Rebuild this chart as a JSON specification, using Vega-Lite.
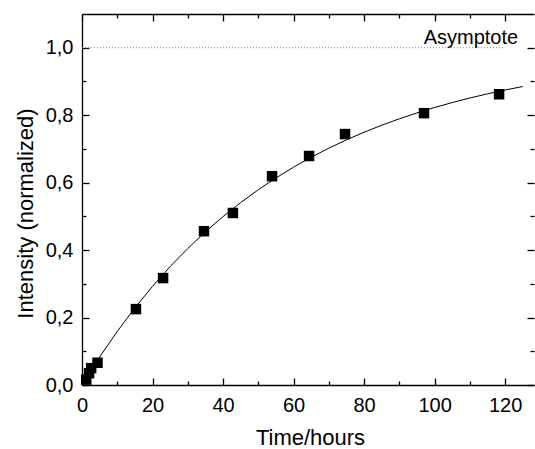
{
  "$schema": "https://vega.github.io/schema/vega-lite/v6.json",
  "width": 452,
  "height": 371,
  "autosize": {"type": "none"},
  "padding": {"left": 82, "top": 14, "right": 1, "bottom": 64},
  "config": {
    "view": {"stroke": null},
    "axis": {
      "labelFont": "Liberation Sans",
      "titleFont": "Liberation Sans",
      "labelFontSize": 20,
      "titleFontSize": 22,
      "titleFontWeight": "normal",
      "labelColor": "#000000",
      "titleColor": "#000000",
      "domainColor": "#000000",
      "tickColor": "#000000",
      "domainWidth": 1.3,
      "tickWidth": 1.3,
      "grid": false
    }
  },
  "datasets": {
    "points": [
      {"t": 1.2, "v": 0.016},
      {"t": 2.0, "v": 0.035},
      {"t": 2.6, "v": 0.05},
      {"t": 4.4, "v": 0.066},
      {"t": 15.3, "v": 0.225},
      {"t": 23.0, "v": 0.317},
      {"t": 34.6, "v": 0.456},
      {"t": 42.8, "v": 0.51},
      {"t": 53.9, "v": 0.619},
      {"t": 64.4, "v": 0.679},
      {"t": 74.6, "v": 0.744},
      {"t": 97.0, "v": 0.806},
      {"t": 118.3, "v": 0.862}
    ],
    "curve": [
      {"t": 0, "v": 0},
      {"t": 5, "v": 0.0829},
      {"t": 10, "v": 0.1589},
      {"t": 15, "v": 0.2286},
      {"t": 20, "v": 0.2925},
      {"t": 25, "v": 0.3511},
      {"t": 30, "v": 0.4049},
      {"t": 35, "v": 0.4542},
      {"t": 40, "v": 0.4994},
      {"t": 45, "v": 0.5409},
      {"t": 50, "v": 0.5789},
      {"t": 55, "v": 0.6138},
      {"t": 60, "v": 0.6458},
      {"t": 65, "v": 0.6752},
      {"t": 70, "v": 0.7021},
      {"t": 75, "v": 0.7268},
      {"t": 80, "v": 0.7494},
      {"t": 85, "v": 0.7702},
      {"t": 90, "v": 0.7892},
      {"t": 95, "v": 0.8067},
      {"t": 100, "v": 0.8227},
      {"t": 105, "v": 0.8374},
      {"t": 110, "v": 0.8509},
      {"t": 115, "v": 0.8632},
      {"t": 120, "v": 0.8746},
      {"t": 125, "v": 0.885}
    ],
    "asym": [{"t0": 0, "t1": 120, "v": 1.0}],
    "label": [{"t": 110.3, "v": 1.0124, "text": "Asymptote"}]
  },
  "resolve": {"axis": {"x": "independent", "y": "independent"}},
  "layer": [
    {
      "data": {"name": "asym"},
      "mark": {"type": "rule", "color": "#808080", "strokeWidth": 1, "strokeDash": [1, 2]},
      "encoding": {
        "x": {
          "field": "t0", "type": "quantitative",
          "scale": {"domain": [0, 128.2], "nice": false, "zero": false},
          "axis": {
            "orient": "bottom", "values": [0, 20, 40, 60, 80, 100, 120],
            "tickSize": -7, "labelPadding": 17, "labelFlush": false,
            "title": "Time/hours", "titleX": 228, "titleY": 59,
            "titleAlign": "center", "titleBaseline": "alphabetic"
          }
        },
        "x2": {"field": "t1"},
        "y": {
          "field": "v", "type": "quantitative",
          "scale": {"domain": [0, 1.1], "nice": false, "zero": false},
          "axis": {
            "orient": "left", "values": [0, 0.2, 0.4, 0.6, 0.8, 1.0],
            "tickSize": -7, "labelPadding": 16, "labelFlush": false,
            "labelBaseline": "middle",
            "labelExpr": "replace(format(datum.value, '.1f'), '.', ',')",
            "title": "Intensity (normalized)", "titleX": -57, "titleY": 199,
            "titleAngle": -90, "titleAlign": "center", "titleBaseline": "middle"
          }
        }
      }
    },
    {
      "data": {"name": "curve"},
      "mark": {"type": "line", "color": "#000000", "strokeWidth": 1},
      "encoding": {
        "x": {
          "field": "t", "type": "quantitative",
          "axis": {
            "orient": "top", "values": [0, 20, 40, 60, 80, 100, 120],
            "tickSize": -7, "labels": false, "title": null, "domain": true
          }
        },
        "y": {
          "field": "v", "type": "quantitative",
          "axis": {
            "orient": "right", "values": [0, 0.2, 0.4, 0.6, 0.8, 1.0],
            "tickSize": -7, "labels": false, "title": null, "domain": false
          }
        }
      }
    },
    {
      "data": {"name": "points"},
      "mark": {"type": "point", "shape": "square", "filled": true, "color": "#000000", "size": 110, "opacity": 1},
      "encoding": {
        "x": {
          "field": "t", "type": "quantitative",
          "axis": {
            "orient": "bottom", "values": [10, 30, 50, 70, 90, 110],
            "tickSize": -4, "labels": false, "title": null, "domain": false
          }
        },
        "y": {
          "field": "v", "type": "quantitative",
          "axis": {
            "orient": "left", "values": [0.1, 0.3, 0.5, 0.7, 0.9],
            "tickSize": -4, "labels": false, "title": null, "domain": false
          }
        }
      }
    },
    {
      "data": {"name": "label"},
      "mark": {"type": "text", "font": "Liberation Sans", "fontSize": 20, "color": "#000000", "align": "center", "baseline": "alphabetic"},
      "encoding": {
        "x": {
          "field": "t", "type": "quantitative",
          "axis": {
            "orient": "top", "values": [10, 30, 50, 70, 90, 110],
            "tickSize": -4, "labels": false, "title": null, "domain": false
          }
        },
        "y": {
          "field": "v", "type": "quantitative",
          "axis": {
            "orient": "right", "values": [0.1, 0.3, 0.5, 0.7, 0.9],
            "tickSize": -4, "labels": false, "title": null, "domain": false
          }
        },
        "text": {"field": "text"}
      }
    }
  ]
}
